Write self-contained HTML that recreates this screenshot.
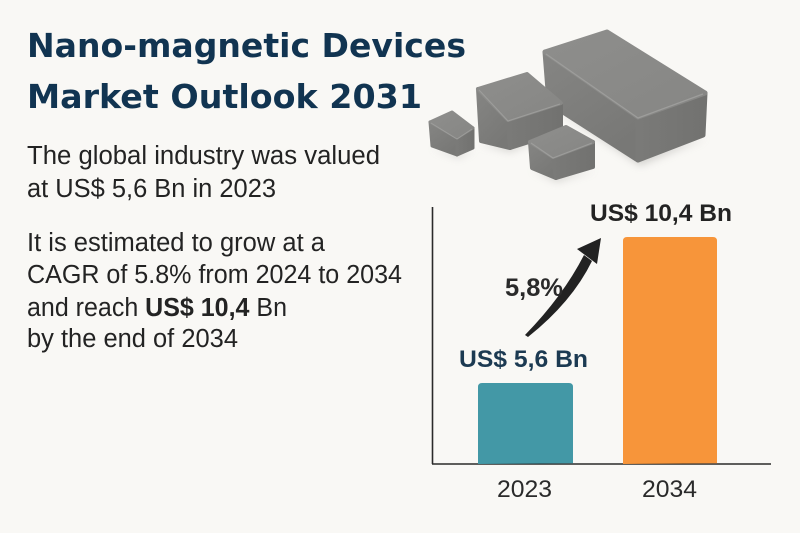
<!DOCTYPE html>
<html>
<head>
<meta charset="utf-8">
<style>
  html,body{margin:0;padding:0;background:#f9f8f5;}
  svg{display:block;}
</style>
</head>
<body>
<svg width="800" height="533" viewBox="0 0 800 533" xmlns="http://www.w3.org/2000/svg">
  <defs>
    <filter id="blur" x="-20%" y="-50%" width="140%" height="200%">
      <feGaussianBlur stdDeviation="4"/>
    </filter>
    <linearGradient id="topG" x1="0" y1="0" x2="1" y2="1">
      <stop offset="0" stop-color="#8e8e8c"/>
      <stop offset="1" stop-color="#868684"/>
    </linearGradient>
    <linearGradient id="leftG" x1="0" y1="0" x2="0.6" y2="1">
      <stop offset="0" stop-color="#858583"/>
      <stop offset="1" stop-color="#787876"/>
    </linearGradient>
    <linearGradient id="rightG" x1="0" y1="0" x2="1" y2="0">
      <stop offset="0" stop-color="#7a7a78"/>
      <stop offset="1" stop-color="#727270"/>
    </linearGradient>
  </defs>

  <rect width="800" height="533" fill="#f9f8f5"/>

  <!-- Title -->
  <g font-family="'DejaVu Sans', 'Liberation Sans', sans-serif" font-weight="bold" font-size="33" fill="#113451">
    <text x="27" y="57" textLength="439" lengthAdjust="spacingAndGlyphs">Nano-magnetic Devices</text>
    <text x="27" y="108" textLength="395" lengthAdjust="spacingAndGlyphs">Market Outlook 2031</text>
  </g>

  <!-- Body text -->
  <g font-family="'Liberation Sans', sans-serif" font-size="25.5" fill="#232323">
    <text x="27" y="164" textLength="353" lengthAdjust="spacingAndGlyphs">The global industry was valued</text>
    <text x="27" y="197" textLength="249" lengthAdjust="spacingAndGlyphs">at US$ 5,6 Bn in 2023</text>
    <text x="27" y="251" textLength="298" lengthAdjust="spacingAndGlyphs">It is estimated to grow at a</text>
    <text x="27" y="283" textLength="375" lengthAdjust="spacingAndGlyphs">CAGR of 5.8% from 2024 to 2034</text>
    <text x="27" y="316" textLength="260" lengthAdjust="spacingAndGlyphs">and reach <tspan font-weight="bold">US$ 10,4</tspan> Bn</text>
    <text x="27" y="347" textLength="211" lengthAdjust="spacingAndGlyphs">by the end of 2034</text>
  </g>

  <!-- Magnets: shadows -->
  <g fill="#c9c8c5" opacity="0.75" filter="url(#blur)">
    <polygon points="548,104 640,166 706,138 640,152"/>
    <polygon points="480,144 510,152 540,140 515,144"/>
    <polygon points="432,148 458,158 474,150 458,153"/>
    <polygon points="532,170 557,182 595,170 560,175"/>
  </g>

  <g stroke-linejoin="round">
    <!-- Large box -->
    <polygon points="545,52 638,117 638,160 549,103" fill="url(#leftG)" stroke="url(#leftG)" stroke-width="5"/>
    <polygon points="638,117 705,93 703,135 638,160" fill="url(#rightG)" stroke="url(#rightG)" stroke-width="5"/>
    <polygon points="545,52 607,32 705,93 638,117" fill="url(#topG)" stroke="url(#topG)" stroke-width="5"/>
    <polyline points="546,54 638,118 703,94" fill="none" stroke="#9d9d9b" stroke-width="1.3"/>

    <!-- Medium box -->
    <polygon points="478,89 508,120 510,148 481,141" fill="url(#leftG)" stroke="url(#leftG)" stroke-width="4"/>
    <polygon points="508,120 561,103 561,132 510,148" fill="url(#rightG)" stroke="url(#rightG)" stroke-width="4"/>
    <polygon points="478,89 527,74 561,103 508,120" fill="url(#topG)" stroke="url(#topG)" stroke-width="4"/>
    <polyline points="479,90 508,121 560,104" fill="none" stroke="#9d9d9b" stroke-width="1.1"/>

    <!-- Small left box -->
    <polygon points="430,122 457,138 457,155 432,146" fill="url(#leftG)" stroke="url(#leftG)" stroke-width="3"/>
    <polygon points="457,138 473,128 473,148 457,155" fill="url(#rightG)" stroke="url(#rightG)" stroke-width="3"/>
    <polygon points="430,122 452,112 473,128 457,138" fill="url(#topG)" stroke="url(#topG)" stroke-width="3"/>
    <polyline points="431,123 457,139 472,129" fill="none" stroke="#9d9d9b" stroke-width="1"/>

    <!-- Small front box -->
    <polygon points="530,142 553,157 556,178 532,168" fill="url(#leftG)" stroke="url(#leftG)" stroke-width="4"/>
    <polygon points="553,157 593,142 593,167 556,178" fill="url(#rightG)" stroke="url(#rightG)" stroke-width="4"/>
    <polygon points="530,142 566,127 593,142 553,157" fill="url(#topG)" stroke="url(#topG)" stroke-width="4"/>
    <polyline points="531,143 553,158 592,143" fill="none" stroke="#9d9d9b" stroke-width="1.1"/>
  </g>

  <!-- Chart axes -->
  <line x1="432.5" y1="207" x2="432.5" y2="464" stroke="#2a2a2a" stroke-width="1.6"/>
  <line x1="432" y1="464" x2="771" y2="464" stroke="#2a2a2a" stroke-width="1.6"/>

  <!-- Bars -->
  <path d="M478,464 V387 Q478,383 482,383 H569 Q573,383 573,387 V463.2 Z" fill="#4398a6"/>
  <path d="M623,464 V241 Q623,237 627,237 H713 Q717,237 717,241 V463.2 Z" fill="#f7953a"/>

  <!-- Arrow -->
  <path d="M525,335 Q563,296 584,255 L592,261 Q572,302 528,337 Z" fill="#222222"/>
  <polygon points="601,238 577,249 597,264" fill="#222222"/>

  <!-- Chart labels -->
  <g font-family="'Liberation Sans', sans-serif" font-weight="bold">
    <text x="590" y="221" font-size="24" fill="#232323" textLength="142" lengthAdjust="spacingAndGlyphs">US$ 10,4 Bn</text>
    <text x="459" y="367" font-size="24" fill="#1c3a52" textLength="129" lengthAdjust="spacingAndGlyphs">US$ 5,6 Bn</text>
    <text x="505" y="296" font-size="25" fill="#2a2a2a" textLength="58" lengthAdjust="spacingAndGlyphs">5,8%</text>
  </g>
  <g font-family="'Liberation Sans', sans-serif" font-size="24" fill="#2a2a2a">
    <text x="497" y="497" textLength="55" lengthAdjust="spacingAndGlyphs">2023</text>
    <text x="642" y="497" textLength="55" lengthAdjust="spacingAndGlyphs">2034</text>
  </g>
</svg>
</body>
</html>
